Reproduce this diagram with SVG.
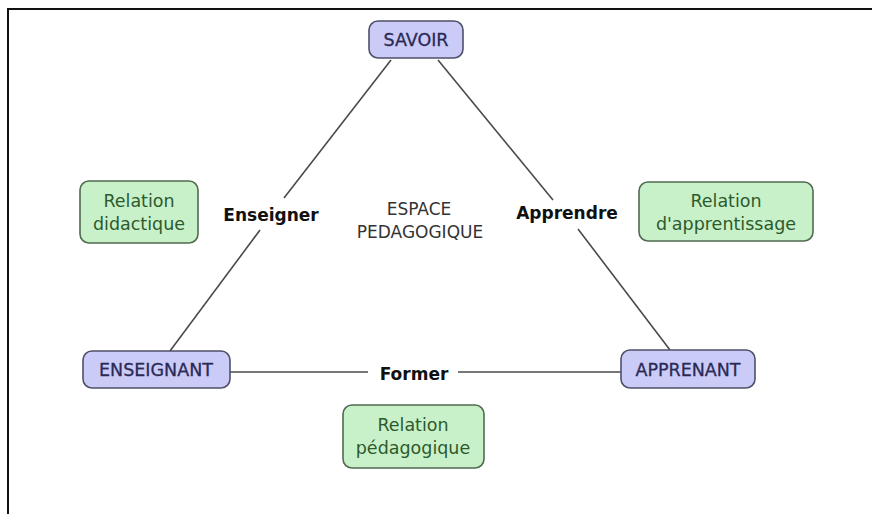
<svg xmlns="http://www.w3.org/2000/svg" width="872" height="514" viewBox="0 0 872 514">
<style>
  text { font-family: "DejaVu Sans", Verdana, sans-serif; text-anchor: middle; }
  .concept rect { fill: #cbcbf7; stroke: #50506a; stroke-width: 1.6; }
  .concept text { fill: #2a2a55; font-size: 17.5px; stroke: #2a2a55; stroke-width: 0.3; }
  .rel rect { fill: #c9f1c9; stroke: #506a50; stroke-width: 1.6; }
  .rel text { fill: #2d5a2d; font-size: 17.5px; }
  .link { stroke: #4a4a4a; stroke-width: 1.6; fill: none; }
  .lbl { fill: #111; font-size: 17px; font-weight: bold; }
  .space { fill: #333; font-size: 17px; }
</style>
<rect x="0" y="0" width="872" height="514" fill="#ffffff"/>
<rect x="8" y="9" width="880" height="520" fill="none" stroke="#111" stroke-width="2"/>

<g id="connectors">
  <line class="link" x1="391" y1="60" x2="284" y2="198"/>
  <line class="link" x1="260" y1="230" x2="170" y2="351"/>
  <line class="link" x1="438" y1="60" x2="553" y2="200"/>
  <line class="link" x1="578" y1="229" x2="670" y2="350"/>
  <line class="link" x1="230" y1="372" x2="368" y2="372"/>
  <line class="link" x1="458" y1="372" x2="621" y2="372"/>
  <text class="lbl" x="271" y="221">Enseigner</text>
  <text class="lbl" x="567" y="219">Apprendre</text>
  <text class="lbl" x="414" y="380">Former</text>
</g>

<g id="savoir" class="concept">
  <rect x="369" y="21" width="94" height="37" rx="9"/>
  <text x="416" y="46">SAVOIR</text>
</g>
<g id="enseignant" class="concept">
  <rect x="83" y="351" width="147" height="37" rx="9"/>
  <text x="156" y="376">ENSEIGNANT</text>
</g>
<g id="apprenant" class="concept">
  <rect x="621" y="350" width="134" height="38" rx="9"/>
  <text x="688" y="376">APPRENANT</text>
</g>

<g id="espace">
  <text class="space" x="419" y="215">ESPACE</text>
  <text class="space" x="420" y="238">PEDAGOGIQUE</text>
</g>

<g id="relation-didactique" class="rel">
  <rect x="80" y="181" width="118" height="62" rx="9"/>
  <text x="139" y="207">Relation</text>
  <text x="139" y="230">didactique</text>
</g>
<g id="relation-apprentissage" class="rel">
  <rect x="639" y="182" width="174" height="59" rx="9"/>
  <text x="726" y="207">Relation</text>
  <text x="726" y="230">d'apprentissage</text>
</g>
<g id="relation-pedagogique" class="rel">
  <rect x="343" y="405" width="141" height="63" rx="9"/>
  <text x="413" y="431">Relation</text>
  <text x="413" y="454">pédagogique</text>
</g>
</svg>
